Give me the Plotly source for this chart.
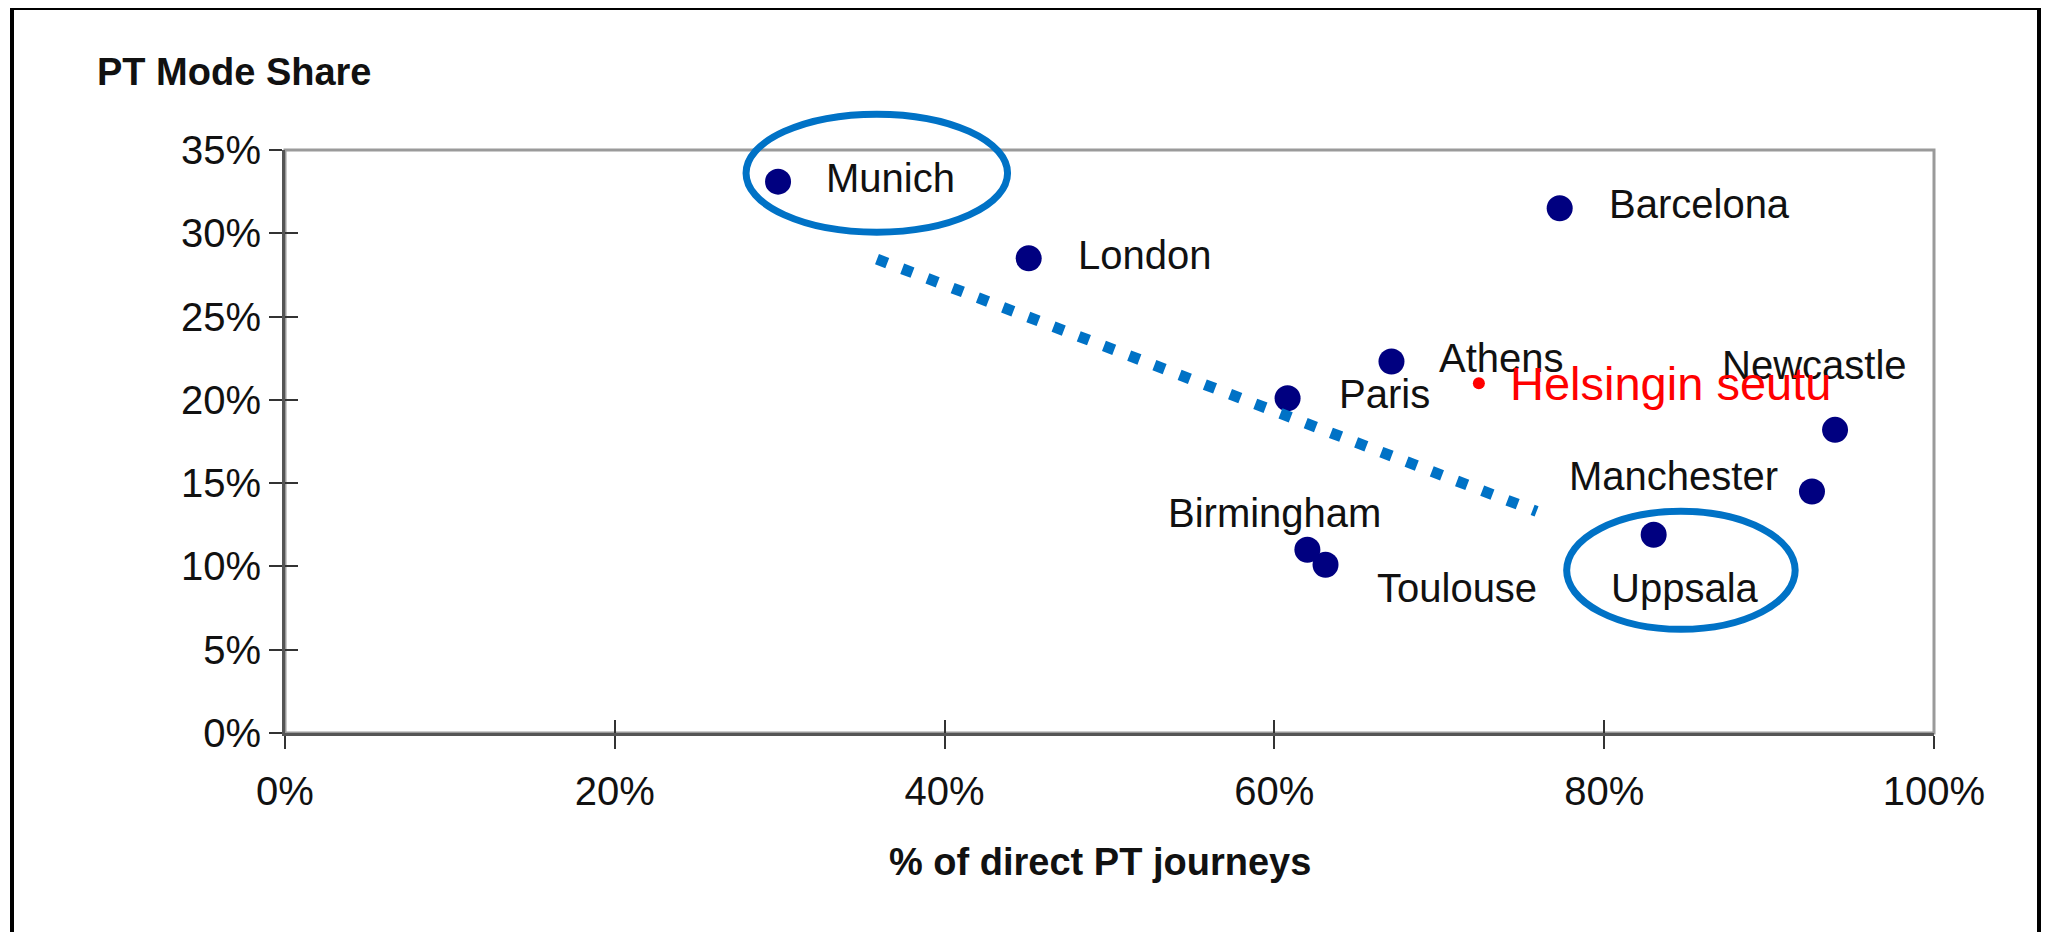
import plotly.graph_objects as go

# ---- data ----
CITIES = ["Munich", "London", "Paris", "Athens", "Barcelona",
          "Newcastle", "Manchester", "Birmingham", "Toulouse", "Uppsala"]
DIRECT_PT = [0.299, 0.451, 0.608, 0.671, 0.773, 0.940, 0.926, 0.620, 0.631, 0.830]
MODE_SHARE = [0.331, 0.285, 0.201, 0.223, 0.315, 0.182, 0.145, 0.110, 0.101, 0.119]

HEL_NAME = "Helsingin seutu"
HEL_X = [0.724]
HEL_Y = [0.210]

TREND_X = [0.359, 0.759]
TREND_Y = [0.2845, 0.133]

X_RANGE = [0, 1.0]
Y_RANGE = [0, 0.35]
X_TICKS = [0, 0.2, 0.4, 0.6, 0.8, 1.0]
Y_TICKS = [0, 0.05, 0.10, 0.15, 0.20, 0.25, 0.30, 0.35]

# ---- styles ----
FONT = "Liberation Sans, Arial, sans-serif"
NAVY = "#000080"
BLUE = "#0072C6"
OFF = 8                       # page body margin of the html page
W, H = 2049 - OFF, 932 - OFF  # figure size
PL, PR, PT, PB = 285, 1934, 150, 733   # plot area in page pixels
L, R, T, B = PL - OFF, (W + OFF) - PR, PT - OFF, (H + OFF) - PB
pw, ph = PR - PL, PB - PT


def px_to_paper_x(px):
    return (px - PL) / pw


def px_to_paper_y(py):
    return (PB - py) / ph


# label placement per city: (xanchor, xshift px, yshift px)
LABEL_POS = {
    "Munich": ("left", 46, 4),
    "London": ("left", 47, 3),
    "Paris": ("left", 49, 4),
    "Athens": ("left", 46, 4),
    "Barcelona": ("left", 47, 4),
    "Newcastle": ("center", -21, 65),
    "Manchester": ("right", -32, 15),
    "Birmingham": ("center", -33, 37),
    "Toulouse": ("left", 49, -23),
    "Uppsala": ("center", 31, -53),
}

fig = go.Figure()

fig.add_trace(go.Scatter(
    x=DIRECT_PT, y=MODE_SHARE, mode="markers",
    marker=dict(color=NAVY, size=26, line=dict(width=0)),
    hoverinfo="text", text=CITIES, showlegend=False,
))
fig.add_trace(go.Scatter(
    x=HEL_X, y=HEL_Y, mode="markers",
    marker=dict(color="#FF0000", size=12, line=dict(width=0)),
    hoverinfo="text", text=[HEL_NAME], showlegend=False,
))
# invisible trace for overlay axes (inside half of crossing ticks)
fig.add_trace(go.Scatter(x=[None], y=[None], xaxis="x2", yaxis="y2",
                         mode="markers", showlegend=False, hoverinfo="skip"))

annotations = []
for name, xv, yv in zip(CITIES, DIRECT_PT, MODE_SHARE):
    anc, dx, dy = LABEL_POS[name]
    annotations.append(dict(
        x=xv, y=yv, xref="x", yref="y", text=name, showarrow=False,
        xanchor=anc, yanchor="middle", xshift=dx, yshift=dy,
        font=dict(family=FONT, size=40, color="#111111"),
    ))
annotations.append(dict(
    x=HEL_X[0], y=HEL_Y[0], xref="x", yref="y", text=HEL_NAME, showarrow=False,
    xanchor="left", yanchor="middle", xshift=29, yshift=0,
    font=dict(family=FONT, size=47, color="#FF0000"),
))
annotations.append(dict(
    x=px_to_paper_x(95), y=px_to_paper_y(72), xref="paper", yref="paper",
    text="<b>PT Mode Share</b>", showarrow=False, xanchor="left", yanchor="middle",
    font=dict(family=FONT, size=38, color="#111111"),
))
annotations.append(dict(
    x=px_to_paper_x(1100), y=px_to_paper_y(862), xref="paper", yref="paper",
    text="<b>% of direct PT journeys</b>", showarrow=False, xanchor="center", yanchor="middle",
    font=dict(family=FONT, size=38, color="#111111"),
))


def ellipse(i, x0, x1, y0, y1):
    # ellipse drawn around data point i, sized in pixels (paper ref so it is not clipped)
    return dict(type="circle", xref="paper", yref="paper",
                xsizemode="pixel", ysizemode="pixel",
                xanchor=(DIRECT_PT[i] - X_RANGE[0]) / (X_RANGE[1] - X_RANGE[0]),
                yanchor=(MODE_SHARE[i] - Y_RANGE[0]) / (Y_RANGE[1] - Y_RANGE[0]),
                x0=x0, x1=x1, y0=y0, y1=y1,
                line=dict(color=BLUE, width=7))


shapes = [
    # plot area border (top / right)
    dict(type="rect", xref="x domain", yref="y domain", x0=0, x1=1, y0=0, y1=1,
         line=dict(color="#9a9a9a", width=3), layer="below"),
    # outer frame
    dict(type="rect", xref="paper", yref="paper",
         x0=px_to_paper_x(12), x1=px_to_paper_x(2039),
         y0=px_to_paper_y(960), y1=px_to_paper_y(8),
         line=dict(color="#000000", width=4)),
    # dotted trend line
    dict(type="line", xref="x", yref="y", x0=TREND_X[0], y0=TREND_Y[0],
         x1=TREND_X[1], y1=TREND_Y[1],
         line=dict(color=BLUE, width=11, dash="11px,16px")),
    # highlight ellipses around Munich and Uppsala
    ellipse(CITIES.index("Munich"), -32, 229.5, -50.5, 67.5),
    ellipse(CITIES.index("Uppsala"), -87, 141.5, -94.5, 23.5),
]

axis_common = dict(showgrid=False, zeroline=False)
fig.update_layout(
    width=W, height=H,
    margin=dict(l=L, r=R, t=T, b=B, pad=0),
    paper_bgcolor="white", plot_bgcolor="white",
    showlegend=False,
    xaxis=dict(range=X_RANGE, tickvals=X_TICKS, tickformat=".0%",
               showline=True, linecolor="#555555", linewidth=3,
               ticks="outside", ticklen=13, tickwidth=2, tickcolor="#333333",
               ticklabelstandoff=8,
               tickfont=dict(family=FONT, size=40, color="#111111"), **axis_common),
    yaxis=dict(range=Y_RANGE, tickvals=Y_TICKS, tickformat=".0%",
               showline=True, linecolor="#555555", linewidth=3,
               ticks="outside", ticklen=13, tickwidth=2, tickcolor="#333333",
               ticklabelstandoff=0,
               tickfont=dict(family=FONT, size=40, color="#111111"), **axis_common),
    xaxis2=dict(range=X_RANGE, tickvals=X_TICKS, overlaying="x", anchor="y", side="bottom",
                ticks="inside", ticklen=13, tickwidth=2, tickcolor="#333333",
                showticklabels=False, showline=False, **axis_common),
    yaxis2=dict(range=Y_RANGE, tickvals=Y_TICKS, overlaying="y", anchor="x", side="left",
                ticks="inside", ticklen=13, tickwidth=2, tickcolor="#333333",
                showticklabels=False, showline=False, **axis_common),
    annotations=annotations,
    shapes=shapes,
)

fig.write_html("out.html")
